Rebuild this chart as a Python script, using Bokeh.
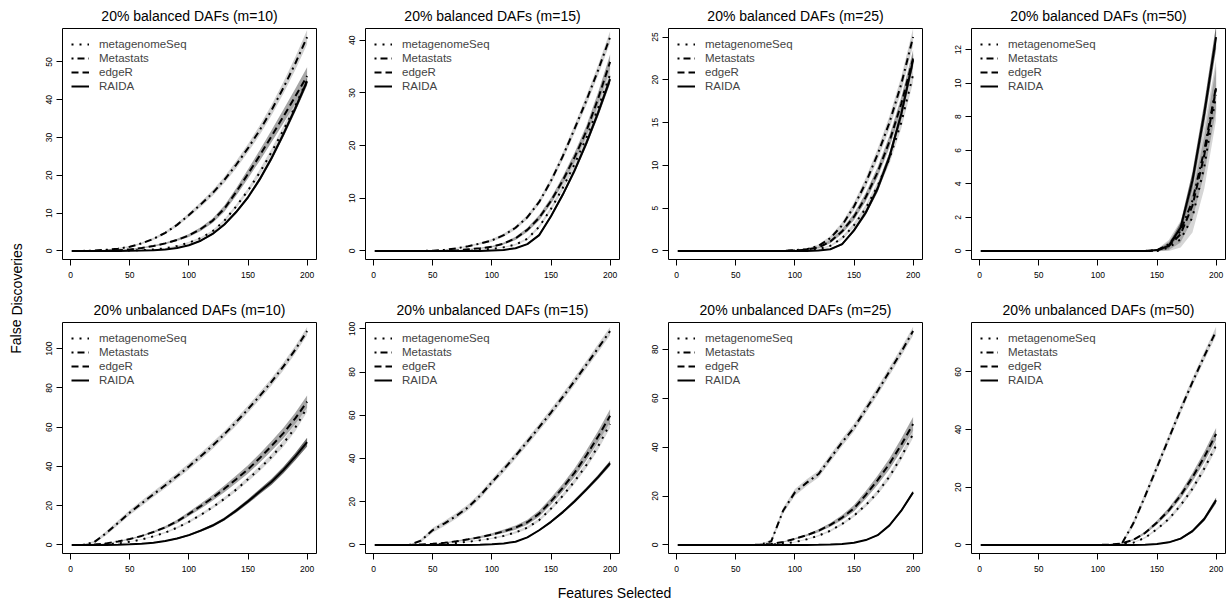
from bokeh.plotting import figure
from bokeh.models import Range1d, FixedTicker, Legend, LegendItem, Label
from bokeh.layouts import row, column
from bokeh.embed import file_html
from bokeh.resources import INLINE

# ---------------- data ----------------
x_sel = [1, 10, 20, 30, 40, 50, 60, 70, 80, 90, 100, 110, 120, 130, 140, 150, 160, 170, 180, 190, 200]
methods = ["metagenomeSeq", "Metastats", "edgeR", "RAIDA"]
titles = ["20% balanced DAFs (m=10)", "20% balanced DAFs (m=15)", "20% balanced DAFs (m=25)", "20% balanced DAFs (m=50)",
          "20% unbalanced DAFs (m=10)", "20% unbalanced DAFs (m=15)", "20% unbalanced DAFs (m=25)", "20% unbalanced DAFs (m=50)"]
x_ticks = [0, 50, 100, 150, 200]
y_ticks = [[0, 10, 20, 30, 40, 50], [0, 10, 20, 30, 40], [0, 5, 10, 15, 20, 25], [0, 2, 4, 6, 8, 10, 12],
           [0, 20, 40, 60, 80, 100], [0, 20, 40, 60, 80, 100], [0, 20, 40, 60, 80], [0, 20, 40, 60]]
x_label = "Features Selected"
y_label = "False Discoveries"

# balanced, m=10
b10_mgs = [0, 0, 0, 0, 0.05, 0.1, 0.2, 0.4, 0.7, 1.3, 2.2, 3.4, 5.2, 8.0, 11.8, 16.0, 20.8, 26.2, 32.0, 38.3, 45.3]
b10_mgs_hw = [0, 0, 0, 0, 0.02, 0.03, 0.05, 0.07, 0.1, 0.15, 0.2, 0.25, 0.3, 0.4, 0.5, 0.6, 0.8, 0.9, 1.1, 1.3, 1.5]
b10_mst = [0, 0, 0.1, 0.3, 0.6, 1.1, 2.0, 3.2, 4.8, 6.9, 9.5, 12.3, 15.3, 18.8, 22.8, 27.2, 32.0, 37.3, 43.2, 49.6, 56.6]
b10_mst_hw = [0, 0, 0.05, 0.1, 0.15, 0.2, 0.25, 0.3, 0.35, 0.45, 0.55, 0.65, 0.75, 0.85, 1.0, 1.1, 1.25, 1.4, 1.55, 1.7, 1.9]
b10_edg = [0, 0, 0, 0.05, 0.2, 0.4, 0.8, 1.3, 2.0, 2.9, 4.1, 5.8, 8.0, 11.2, 15.6, 20.4, 25.3, 30.4, 35.6, 40.9, 46.3]
b10_edg_hw = [0, 0, 0, 0.03, 0.06, 0.1, 0.15, 0.2, 0.25, 0.3, 0.4, 0.5, 0.6, 0.8, 1.0, 1.2, 1.4, 1.6, 1.8, 2.0, 2.3]
b10_rai = [0, 0, 0, 0, 0, 0.05, 0.1, 0.2, 0.4, 0.8, 1.5, 2.7, 4.5, 7.0, 10.3, 14.2, 19.0, 24.6, 30.9, 37.7, 44.9]
b10_rai_hw = [0, 0, 0, 0, 0, 0.02, 0.03, 0.05, 0.08, 0.12, 0.15, 0.2, 0.25, 0.3, 0.4, 0.45, 0.55, 0.65, 0.75, 0.85, 1.0]

# balanced, m=15
b15_mgs = [0, 0, 0, 0, 0, 0, 0, 0, 0, 0.2, 0.4, 0.7, 1.2, 2.3, 4.6, 8.0, 12.0, 16.5, 21.5, 27.2, 33.5]
b15_mgs_hw = [0, 0, 0, 0, 0, 0, 0, 0, 0, 0.05, 0.08, 0.1, 0.15, 0.2, 0.3, 0.4, 0.5, 0.6, 0.7, 0.85, 1.0]
b15_mst = [0, 0, 0, 0, 0, 0.05, 0.2, 0.5, 0.9, 1.4, 2.0, 3.0, 4.4, 6.4, 9.3, 13.3, 18.0, 23.2, 28.6, 34.4, 40.6]
b15_mst_hw = [0, 0, 0, 0, 0, 0.03, 0.06, 0.1, 0.15, 0.2, 0.25, 0.3, 0.35, 0.4, 0.5, 0.6, 0.7, 0.8, 0.9, 1.0, 1.1]
b15_edg = [0, 0, 0, 0, 0, 0, 0, 0.1, 0.3, 0.5, 0.8, 1.4, 2.4, 4.0, 6.3, 9.5, 13.4, 17.8, 22.8, 29.0, 35.9]
b15_edg_hw = [0, 0, 0, 0, 0, 0, 0, 0.05, 0.08, 0.1, 0.15, 0.2, 0.3, 0.4, 0.5, 0.6, 0.75, 0.9, 1.0, 1.2, 1.4]
b15_rai = [0, 0, 0, 0, 0, 0, 0, 0, 0, 0, 0.1, 0.2, 0.5, 1.3, 3.0, 6.6, 10.7, 15.3, 20.5, 26.3, 32.6]
b15_rai_hw = [0, 0, 0, 0, 0, 0, 0, 0, 0, 0, 0.03, 0.05, 0.08, 0.12, 0.2, 0.3, 0.4, 0.5, 0.6, 0.7, 0.8]

# balanced, m=25
b25_mgs = [0, 0, 0, 0, 0, 0, 0, 0, 0, 0, 0, 0.05, 0.2, 0.6, 1.5, 3.0, 5.0, 7.6, 10.8, 15.0, 20.6]
b25_mgs_hw = [0, 0, 0, 0, 0, 0, 0, 0, 0, 0, 0, 0.03, 0.06, 0.1, 0.2, 0.3, 0.4, 0.5, 0.6, 0.7, 0.9]
b25_mst = [0, 0, 0, 0, 0, 0, 0, 0, 0, 0, 0.1, 0.2, 0.6, 1.5, 3.0, 5.2, 8.0, 11.3, 15.0, 19.5, 25.0]
b25_mst_hw = [0, 0, 0, 0, 0, 0, 0, 0, 0, 0, 0.05, 0.1, 0.15, 0.25, 0.35, 0.45, 0.55, 0.65, 0.75, 0.85, 1.0]
b25_edg = [0, 0, 0, 0, 0, 0, 0, 0, 0, 0, 0.05, 0.15, 0.4, 1.1, 2.3, 4.0, 6.3, 9.2, 12.8, 17.2, 22.5]
b25_edg_hw = [0, 0, 0, 0, 0, 0, 0, 0, 0, 0, 0.03, 0.06, 0.1, 0.2, 0.3, 0.4, 0.5, 0.6, 0.7, 0.8, 1.0]
b25_rai = [0, 0, 0, 0, 0, 0, 0, 0, 0, 0, 0, 0, 0.05, 0.2, 0.8, 2.4, 4.5, 7.3, 11.0, 16.0, 22.3]
b25_rai_hw = [0, 0, 0, 0, 0, 0, 0, 0, 0, 0, 0, 0, 0.03, 0.06, 0.12, 0.2, 0.3, 0.4, 0.5, 0.6, 0.7]

# balanced, m=50
b50_mgs = [0, 0, 0, 0, 0, 0, 0, 0, 0, 0, 0, 0, 0, 0, 0, 0, 0.2, 0.7, 2.0, 5.0, 9.3]
b50_mgs_hw = [0, 0, 0, 0, 0, 0, 0, 0, 0, 0, 0, 0, 0, 0, 0, 0, 0.2, 0.5, 0.9, 1.3, 1.5]
b50_mst = [0, 0, 0, 0, 0, 0, 0, 0, 0, 0, 0, 0, 0, 0, 0, 0.05, 0.4, 1.2, 3.0, 6.0, 9.8]
b50_mst_hw = [0, 0, 0, 0, 0, 0, 0, 0, 0, 0, 0, 0, 0, 0, 0, 0.05, 0.25, 0.6, 1.0, 1.4, 1.6]
b50_edg = [0, 0, 0, 0, 0, 0, 0, 0, 0, 0, 0, 0, 0, 0, 0, 0.02, 0.3, 1.0, 2.7, 5.7, 9.7]
b50_edg_hw = [0, 0, 0, 0, 0, 0, 0, 0, 0, 0, 0, 0, 0, 0, 0, 0.05, 0.25, 0.5, 0.8, 1.1, 1.3]
b50_rai = [0, 0, 0, 0, 0, 0, 0, 0, 0, 0, 0, 0, 0, 0, 0, 0.05, 0.3, 1.4, 4.2, 8.2, 12.75]
b50_rai_hw = [0, 0, 0, 0, 0, 0, 0, 0, 0, 0, 0, 0, 0, 0, 0, 0.03, 0.15, 0.3, 0.5, 0.6, 0.7]

# unbalanced, m=10
u10_mgs = [0, 0, 0, 0.3, 0.8, 1.6, 2.8, 4.4, 6.3, 8.8, 11.8, 15.3, 19.2, 23.5, 28.2, 33.5, 39.0, 45.0, 51.8, 59.8, 70.0]
u10_mgs_hw = [0, 0, 0, 0.05, 0.1, 0.15, 0.2, 0.3, 0.4, 0.5, 0.6, 0.7, 0.8, 0.9, 1.0, 1.2, 1.3, 1.5, 1.7, 1.9, 2.2]
u10_mst = [0, 0, 1.5, 6.0, 11.2, 16.5, 21.2, 25.8, 30.4, 35.1, 40.0, 45.2, 50.6, 56.4, 62.6, 69.2, 76.0, 83.2, 91.0, 99.5, 109.0]
u10_mst_hw = [0, 0, 0.6, 1.0, 1.2, 1.3, 1.4, 1.4, 1.5, 1.5, 1.6, 1.6, 1.7, 1.7, 1.8, 1.8, 1.9, 1.9, 2.0, 2.0, 2.1]
u10_edg = [0, 0, 0.2, 0.8, 1.8, 3.0, 4.6, 6.6, 9.0, 12.0, 15.8, 19.8, 24.0, 28.6, 33.5, 38.5, 44.3, 50.5, 57.0, 64.5, 73.0]
u10_edg_hw = [0, 0, 0.05, 0.1, 0.2, 0.3, 0.4, 0.5, 0.7, 0.9, 1.1, 1.3, 1.5, 1.7, 1.9, 2.1, 2.3, 2.5, 2.7, 2.9, 3.1]
u10_rai = [0, 0, 0, 0, 0.1, 0.3, 0.6, 1.1, 2.0, 3.3, 5.0, 7.3, 9.9, 13.2, 17.5, 22.2, 27.2, 32.2, 38.2, 45.0, 52.4]
u10_rai_hw = [0, 0, 0, 0, 0.05, 0.1, 0.15, 0.2, 0.3, 0.4, 0.5, 0.6, 0.7, 0.8, 1.0, 1.1, 1.3, 1.5, 1.7, 1.9, 2.2]

# unbalanced, m=15
u15_mgs = [0, 0, 0, 0, 0, 0.2, 0.5, 0.9, 1.5, 2.2, 3.0, 4.2, 5.8, 8.0, 11.5, 16.8, 22.8, 29.5, 37.0, 45.8, 56.0]
u15_mgs_hw = [0, 0, 0, 0, 0, 0.05, 0.1, 0.15, 0.2, 0.25, 0.3, 0.4, 0.5, 0.6, 0.7, 0.8, 1.0, 1.2, 1.4, 1.6, 1.9]
u15_mst = [0, 0, 0, 0, 2.0, 6.9, 10.0, 13.5, 17.5, 22.8, 29.0, 35.0, 41.3, 47.8, 54.5, 61.3, 68.5, 75.9, 83.5, 91.2, 99.0]
u15_mst_hw = [0, 0, 0, 0, 0.8, 1.1, 1.2, 1.3, 1.3, 1.4, 1.4, 1.5, 1.5, 1.6, 1.6, 1.7, 1.7, 1.8, 1.8, 1.9, 1.9]
u15_edg = [0, 0, 0, 0, 0.2, 0.5, 1.0, 1.7, 2.6, 3.6, 4.8, 6.3, 8.0, 10.5, 14.5, 20.2, 26.5, 33.5, 41.5, 50.3, 59.8]
u15_edg_hw = [0, 0, 0, 0, 0.05, 0.1, 0.2, 0.3, 0.4, 0.5, 0.6, 0.8, 1.0, 1.2, 1.4, 1.6, 1.8, 2.0, 2.3, 2.6, 3.0]
u15_rai = [0, 0, 0, 0, 0, 0, 0, 0, 0, 0.1, 0.3, 0.7, 1.5, 3.5, 6.8, 10.7, 15.2, 20.2, 25.7, 31.5, 37.8]
u15_rai_hw = [0, 0, 0, 0, 0, 0, 0, 0, 0, 0.03, 0.05, 0.1, 0.15, 0.3, 0.4, 0.5, 0.6, 0.8, 0.9, 1.0, 1.2]

# unbalanced, m=25
u25_mgs = [0, 0, 0, 0, 0, 0, 0, 0, 0.1, 0.5, 1.2, 2.3, 3.8, 5.8, 8.6, 12.0, 16.3, 21.5, 28.0, 36.0, 45.5]
u25_mgs_hw = [0, 0, 0, 0, 0, 0, 0, 0, 0.05, 0.1, 0.15, 0.2, 0.3, 0.4, 0.5, 0.6, 0.8, 1.0, 1.2, 1.4, 1.6]
u25_mst = [0, 0, 0, 0, 0, 0, 0, 0, 1.5, 14.0, 21.5, 25.5, 29.0, 35.5, 42.0, 48.0, 55.5, 63.0, 71.0, 79.0, 87.5]
u25_mst_hw = [0, 0, 0, 0, 0, 0, 0, 0, 0.8, 1.2, 1.4, 1.4, 1.4, 1.5, 1.5, 1.6, 1.6, 1.7, 1.7, 1.8, 1.8]
u25_edg = [0, 0, 0, 0, 0, 0, 0, 0.1, 0.4, 1.2, 2.5, 4.0, 5.8, 8.2, 11.2, 15.0, 20.5, 26.5, 33.2, 41.0, 49.5]
u25_edg_hw = [0, 0, 0, 0, 0, 0, 0, 0.05, 0.1, 0.2, 0.3, 0.4, 0.6, 0.8, 1.0, 1.3, 1.6, 1.9, 2.2, 2.5, 2.8]
u25_rai = [0, 0, 0, 0, 0, 0, 0, 0, 0, 0, 0, 0, 0.05, 0.15, 0.4, 0.9, 2.0, 4.0, 8.0, 14.0, 21.5]
u25_rai_hw = [0, 0, 0, 0, 0, 0, 0, 0, 0, 0, 0, 0, 0.03, 0.05, 0.1, 0.15, 0.2, 0.3, 0.4, 0.5, 0.7]

# unbalanced, m=50
u50_mgs = [0, 0, 0, 0, 0, 0, 0, 0, 0, 0, 0, 0, 0.2, 0.8, 2.5, 5.5, 9.0, 13.8, 19.5, 26.5, 34.5]
u50_mgs_hw = [0, 0, 0, 0, 0, 0, 0, 0, 0, 0, 0, 0, 0.05, 0.15, 0.3, 0.4, 0.6, 0.8, 1.0, 1.2, 1.4]
u50_mst = [0, 0, 0, 0, 0, 0, 0, 0, 0, 0, 0, 0, 0.3, 7.5, 17.0, 27.0, 37.0, 47.0, 56.5, 65.5, 74.2]
u50_mst_hw = [0, 0, 0, 0, 0, 0, 0, 0, 0, 0, 0, 0, 0.4, 1.0, 1.2, 1.3, 1.3, 1.4, 1.4, 1.5, 1.5]
u50_edg = [0, 0, 0, 0, 0, 0, 0, 0, 0, 0, 0, 0.1, 0.5, 1.8, 4.2, 7.8, 12.0, 17.2, 23.5, 30.5, 38.5]
u50_edg_hw = [0, 0, 0, 0, 0, 0, 0, 0, 0, 0, 0, 0.05, 0.15, 0.3, 0.5, 0.7, 0.9, 1.2, 1.5, 1.8, 2.1]
u50_rai = [0, 0, 0, 0, 0, 0, 0, 0, 0, 0, 0, 0, 0, 0, 0.05, 0.3, 0.9, 2.2, 4.8, 9.0, 15.5]
u50_rai_hw = [0, 0, 0, 0, 0, 0, 0, 0, 0, 0, 0, 0, 0, 0, 0.03, 0.1, 0.2, 0.3, 0.5, 0.7, 1.0]

panels = [
    ([b10_mgs, b10_mst, b10_edg, b10_rai], [b10_mgs_hw, b10_mst_hw, b10_edg_hw, b10_rai_hw]),
    ([b15_mgs, b15_mst, b15_edg, b15_rai], [b15_mgs_hw, b15_mst_hw, b15_edg_hw, b15_rai_hw]),
    ([b25_mgs, b25_mst, b25_edg, b25_rai], [b25_mgs_hw, b25_mst_hw, b25_edg_hw, b25_rai_hw]),
    ([b50_mgs, b50_mst, b50_edg, b50_rai], [b50_mgs_hw, b50_mst_hw, b50_edg_hw, b50_rai_hw]),
    ([u10_mgs, u10_mst, u10_edg, u10_rai], [u10_mgs_hw, u10_mst_hw, u10_edg_hw, u10_rai_hw]),
    ([u15_mgs, u15_mst, u15_edg, u15_rai], [u15_mgs_hw, u15_mst_hw, u15_edg_hw, u15_rai_hw]),
    ([u25_mgs, u25_mst, u25_edg, u25_rai], [u25_mgs_hw, u25_mst_hw, u25_edg_hw, u25_rai_hw]),
    ([u50_mgs, u50_mst, u50_edg, u50_rai], [u50_mgs_hw, u50_mst_hw, u50_edg_hw, u50_rai_hw]),
]

# ---------------- style ----------------
FONT = "Liberation Sans"
line_dash = {"metagenomeSeq": "2 6", "Metastats": "2 4 7 4", "edgeR": "7 4", "RAIDA": "solid"}
band_color = {"metagenomeSeq": "#d6d6d6", "Metastats": "#d0d0d0", "edgeR": "#a6a6a6", "RAIDA": "#6e6e6e"}
LW = 2
YLAB_W = 24
LEFT_B = 38
FRAME_W = 254
TOP_H, BOT_H = 294, 289
XLAB_H = 22


def make_panel(idx):
    means, hws = panels[idx]
    top = idx < 4
    last_col = (idx % 4) == 3
    M = max(max(m) for m in means)
    xmin, xmax = min(x_sel), max(x_sel)
    xpad = 0.04 * (xmax - xmin)
    right_b = 3 if last_col else 11
    p = figure(width=LEFT_B + FRAME_W + right_b, height=TOP_H if top else BOT_H,
               x_range=Range1d(xmin - xpad, xmax + xpad),
               y_range=Range1d(-0.04 * M, 1.04 * M),
               output_backend="svg", toolbar_location=None,
               min_border_left=LEFT_B, min_border_right=right_b,
               min_border_top=27,
               min_border_bottom=35 if top else 30,
               title=titles[idx])
    p.title.text_font = FONT
    p.title.text_font_size = "14px"
    p.title.text_font_style = "normal"
    p.title.align = "center"
    p.title.standoff = 10
    p.title.text_color = "black"
    p.xgrid.visible = False
    p.ygrid.visible = False
    p.outline_line_color = "black"
    p.outline_line_width = 1
    p.outline_line_alpha = 1
    p.xaxis.ticker = FixedTicker(ticks=x_ticks)
    p.yaxis.ticker = FixedTicker(ticks=y_ticks[idx])
    for ax in (p.xaxis, p.yaxis):
        ax.axis_line_color = None
        ax.major_tick_in = 0
        ax.major_tick_out = 6
        ax.major_tick_line_color = "black"
        ax.minor_tick_line_color = None
        ax.major_label_text_font = FONT
        ax.major_label_text_font_size = "8.5px"
        ax.major_label_text_color = "black"
    p.xaxis.major_label_standoff = 6
    p.yaxis.major_label_standoff = 4
    p.yaxis.major_label_orientation = "vertical"

    for m, name in enumerate(methods):
        lo = [v - h for v, h in zip(means[m], hws[m])]
        hi = [v + h for v, h in zip(means[m], hws[m])]
        p.varea(x=x_sel, y1=lo, y2=hi, fill_color=band_color[name], fill_alpha=1)
    items = []
    for m, name in enumerate(methods):
        r = p.line(x=x_sel, y=means[m], line_color="black", line_width=LW,
                   line_dash=line_dash[name])
        items.append(LegendItem(label=name, renderers=[r]))
    leg = Legend(items=items, location="top_left", margin=9, padding=0, spacing=0,
                 glyph_width=18, glyph_height=14, label_height=14, label_standoff=10,
                 label_text_font=FONT, label_text_font_size="11.5px",
                 border_line_color=None, background_fill_alpha=0)
    p.add_layout(leg)
    return p


def text_fig(w, h, text, x, y, angle):
    f = figure(width=w, height=h, x_range=Range1d(0, w), y_range=Range1d(0, h),
               output_backend="svg", toolbar_location=None,
               x_axis_location=None, y_axis_location=None,
               min_border_left=0, min_border_right=0, min_border_top=0, min_border_bottom=0)
    f.grid.visible = False
    f.outline_line_color = None
    f.add_layout(Label(x=x, y=y, text=text, angle=angle, text_font=FONT, text_font_size="14px",
                       text_align="center", text_baseline="middle", text_color="black"))
    return f


figs = [make_panel(i) for i in range(8)]
grid = column(row(figs[:4]), row(figs[4:]))
total_w = YLAB_W + 3 * (LEFT_B + FRAME_W + 11) + (LEFT_B + FRAME_W + 3)
ylab = text_fig(YLAB_W, TOP_H + BOT_H, y_label, 16, TOP_H + BOT_H - 298, 1.5707963)
xlab = text_fig(total_w, XLAB_H, x_label, 614, XLAB_H - 9, 0)
layout = column(row(ylab, grid), xlab)

open("out.html", "w").write(file_html(layout, INLINE))
